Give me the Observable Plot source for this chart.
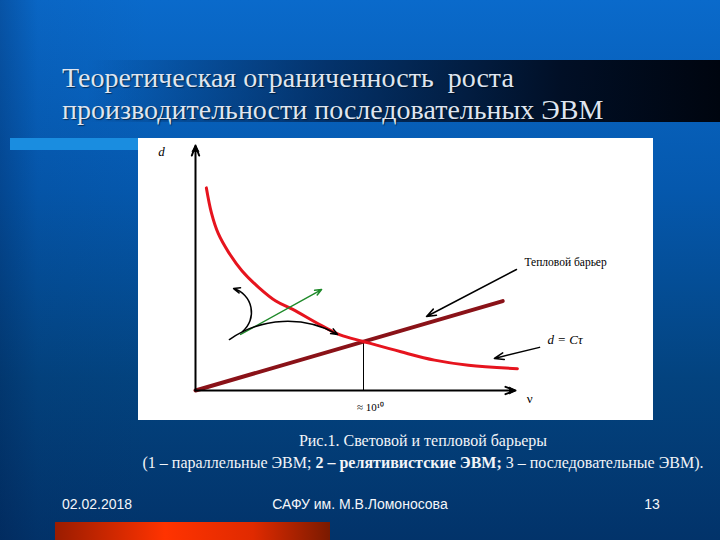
<!DOCTYPE html>
<html><head><meta charset="utf-8">
<script src="https://cdn.jsdelivr.net/npm/d3@7"></script>
<script src="https://cdn.jsdelivr.net/npm/@observablehq/plot@0.6"></script>
<style>
html,body{margin:0;padding:0;}
body{width:720px;height:540px;overflow:hidden;position:relative;
 background:linear-gradient(180deg,#0a6acb 0%,#0558ad 35%,#03437f 70%,#02336a 100%);
 font-family:"Liberation Serif","Times New Roman",serif;}
#leftshade{position:absolute;left:0;top:0;width:150px;height:540px;background:linear-gradient(90deg,rgba(0,25,70,0.28),rgba(0,25,70,0.05) 25%,rgba(0,25,70,0))}
#band{position:absolute;left:0;top:60px;width:720px;height:62px;background:linear-gradient(90deg,rgba(0,8,30,0) 12%,rgba(0,12,40,0.55) 45%,rgba(0,8,25,0.92) 78%,#00050f 100%)}
#title{position:absolute;left:62px;top:62px;color:#dfe5f0;font-size:28px;line-height:32px;white-space:nowrap;text-shadow:1px 1px 1px rgba(0,0,0,0.5)}
#lightbar{position:absolute;left:10px;top:138px;width:128px;height:12px;background:#1a8de0}
#chart{position:absolute;left:138px;top:138px;width:515px;height:282px;background:#fff}
#caption{position:absolute;left:123px;top:430px;width:600px;text-align:center;color:#f2f4f8;font-size:16px;line-height:22px;white-space:nowrap}
#redbar{position:absolute;left:55px;top:522px;width:275px;height:18px;background:linear-gradient(90deg,#9a1c00,#ff3300 40%,#e02a00 72%,#7a1a00)}
.foot{position:absolute;top:496px;font-family:"Liberation Sans",Arial,sans-serif;font-size:14px;line-height:16px;color:#f4f6fa;white-space:nowrap}
</style></head>
<body>
<div id="leftshade"></div>
<div id="band"></div>
<div id="title">Теоретическая ограниченность&nbsp; роста<br>производительности последовательных ЭВМ</div>
<div id="lightbar"></div>
<div id="chart"></div>
<div id="caption">Рис.1. Световой и тепловой барьеры<br>(1 – параллельные ЭВМ; <b>2 – релятивистские ЭВМ;</b> 3 – последовательные ЭВМ).</div>
<div class="foot" style="left:62px">02.02.2018</div>
<div class="foot" style="left:272px;width:176px;text-align:center">САФУ им. М.В.Ломоносова</div>
<div class="foot" style="left:630px;width:44px;text-align:center">13</div>
<div id="redbar"></div>
<script>
// Red curve (hyperbola) points
const curveX = [0.34, 0.50, 0.71, 1.03, 1.45, 1.98, 2.51, 3.04, 3.88, 4.52, 5.25, 6.42, 7.47, 8.53, 10.06];
const curveY = [8.27, 7.24, 6.41, 5.65, 4.89, 4.20, 3.65, 3.31, 2.69, 2.27, 2.00, 1.58, 1.24, 1.03, 0.89];
// Straight dark-red line
const lineX = [0, 9.6];
const lineY = [0, 3.65];
// Crossing point (vertical drop)
const crossX = [5.25];
const crossY = [2.0];
// Axes arrows
const axisX1 = [0, 0], axisY1 = [0, 0], axisX2 = [10, 0], axisY2 = [0, 10], axisHeadRotate = [90, 0];
// Green arrow
const greenX1 = [1.41], greenY1 = [2.29], greenX2 = [3.94], greenY2 = [4.12];
// Curved black arrows
const bendX1 = [1.06, 1.47], bendY1 = [2.08, 2.41], bendX2 = [4.44, 1.19], bendY2 = [2.29, 4.16], bendAngles = [32, -62];
// Pointer arrows
const ptrX1 = [10.03, 10.75], ptrY1 = [4.94, 1.76], ptrX2 = [7.22, 9.34], ptrY2 = [3.02, 1.31];
// Labels
const axisLabelD = ["d"], axisLabelDX = [-1.06], axisLabelDY = [9.76];
const formulaLabel = ["d = Cτ"], formulaX = [11.0], formulaY = [2.08];
const nuLabel = ["ν"], nuX = [10.44], nuY = [-0.33];
const heatLabel = ["Тепловой барьер"], heatX = [10.28], heatY = [5.22];
const tickLabel = ["≈ 10¹⁰"], tickX = [5.47], tickY = [-0.69];

const zip = (...arrs) => arrs[0].map((_, i) => arrs.map(a => a[i]));
const pts = (xs, ys) => zip(xs, ys).map(([x, y]) => ({x, y}));
const segs = (a, b, c, d) => zip(a, b, c, d).map(([x1, y1, x2, y2]) => ({x1, y1, x2, y2}));
const txt = (t, xs, ys) => zip(t, xs, ys).map(([t, x, y]) => ({t, x, y}));

const curve = pts(curveX, curveY);
const line = pts(lineX, lineY);
const axes = segs(axisX1, axisY1, axisX2, axisY2);
const axisHeads = zip(axisX2, axisY2, axisHeadRotate).map(([x, y, r]) => ({x, y, r}));
const green = segs(greenX1, greenY1, greenX2, greenY2);
const bends = zip(bendX1, bendY1, bendX2, bendY2, bendAngles).map(([x1, y1, x2, y2, b]) => ({x1, y1, x2, y2, b}));
const ptrs = segs(ptrX1, ptrY1, ptrX2, ptrY2);

const marks = [
  Plot.ruleX(pts(crossX, crossY), {x: "x", y1: 0, y2: "y", stroke: "black", strokeWidth: 1}),
  Plot.line(line, {x: "x", y: "y", stroke: "#8a1218", strokeWidth: 4}),
  Plot.line(curve, {x: "x", y: "y", stroke: "#e6141e", strokeWidth: 3, curve: "catmull-rom"}),
  Plot.arrow(axes, {x1: "x1", y1: "y1", x2: "x2", y2: "y2", stroke: "black", strokeWidth: 2, headLength: 8, headAngle: 40}),
  Plot.dot(axisHeads.slice(0, 1), {x: "x", y: "y", symbol: "triangle", r: 3, rotate: 90, fill: "black", stroke: "none", dx: -4}),
  Plot.dot(axisHeads.slice(1), {x: "x", y: "y", symbol: "triangle", r: 3, rotate: 0, fill: "black", stroke: "none", dy: 4}),
  Plot.arrow(green, {x1: "x1", y1: "y1", x2: "x2", y2: "y2", stroke: "#1f8a2a", strokeWidth: 1.5, headLength: 7, headAngle: 45}),
  ...bends.map(d => Plot.arrow([d], {x1: "x1", y1: "y1", x2: "x2", y2: "y2", bend: d.b, stroke: "black", strokeWidth: 1.5, headLength: 7, headAngle: 45})),
  Plot.arrow(ptrs, {x1: "x1", y1: "y1", x2: "x2", y2: "y2", stroke: "black", strokeWidth: 1.5, headLength: 10, headAngle: 40}),
  Plot.text(txt(axisLabelD, axisLabelDX, axisLabelDY), {x: "x", y: "y", text: "t", fontStyle: "italic", fontSize: 13, fill: "black"}),
  Plot.text(txt(formulaLabel, formulaX, formulaY), {x: "x", y: "y", text: "t", textAnchor: "start", fontStyle: "italic", fontSize: 13, fill: "black"}),
  Plot.text(txt(nuLabel, nuX, nuY), {x: "x", y: "y", text: "t", fontSize: 13, fill: "black"}),
  Plot.text(txt(heatLabel, heatX, heatY), {x: "x", y: "y", text: "t", textAnchor: "start", fontSize: 11.5, fill: "black"}),
  Plot.text(txt(tickLabel, tickX, tickY), {x: "x", y: "y", text: "t", fontSize: 11, fill: "black"})
];

const chart = Plot.plot({
  width: 515, height: 282,
  marginLeft: 57, marginRight: 138, marginTop: 7, marginBottom: 30,
  x: {domain: [0, 10], axis: null},
  y: {domain: [0, 10], axis: null},
  style: {background: "white", overflow: "visible", fontFamily: "'Liberation Serif', serif"},
  marks
});
document.getElementById("chart").appendChild(chart);
</script>
</body></html>
